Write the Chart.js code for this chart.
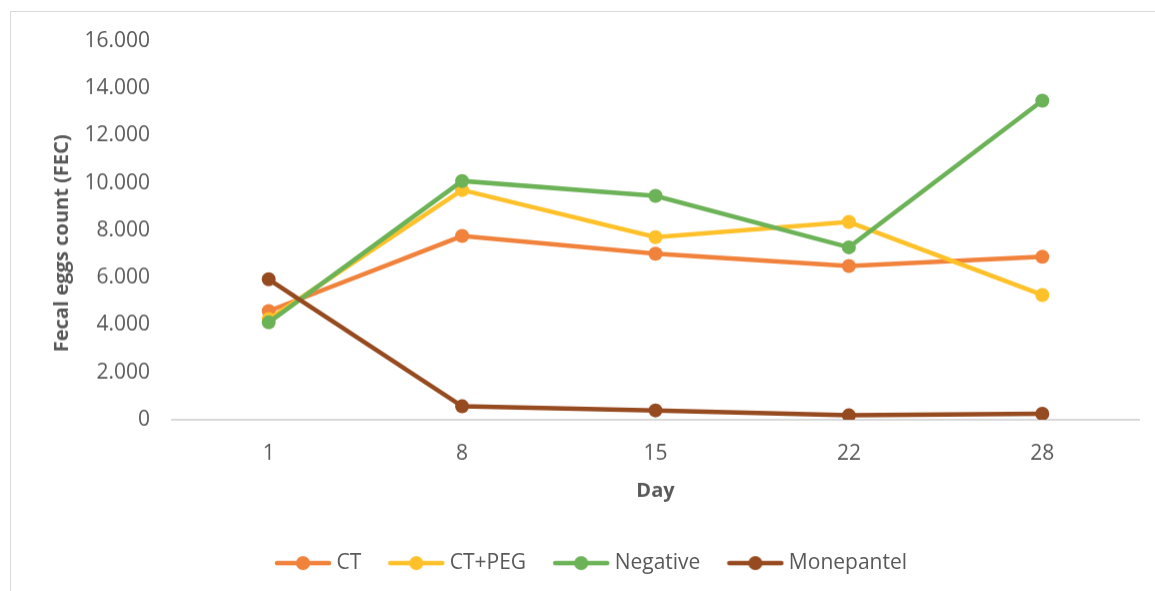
<!DOCTYPE html>
<html>
<head>
<meta charset="utf-8">
<script src="https://cdn.jsdelivr.net/npm/chart.js@4.4.1/dist/chart.umd.min.js"></script>
<style>
  html, body { margin: 0; padding: 0; background: #fff; overflow: hidden; }
  #frame {
    position: absolute; left: 10px; top: 11px;
    width: 1160px; height: 600px;
    border: 1px solid #d9d9d9;
  }
  #wrap { position: absolute; left: 0; top: -5.6px; width: 1144px; height: 576.6px; }
</style>
</head>
<body>
<div id="frame">
  <div id="wrap"><canvas id="chartCanvas"></canvas></div>
</div>
<script>
// Days of sampling
const days = ['1', '8', '15', '22', '28'];

// Fecal egg counts per group
const ctValues = [4590, 7760, 7010, 6490, 6880];
const ctPegValues = [4250, 9700, 7710, 8350, 5270];
const negativeValues = [4110, 10080, 9450, 7280, 13470];
const monepantelValues = [5930, 570, 400, 190, 260];

const seriesNames = ['CT', 'CT+PEG', 'Negative', 'Monepantel'];
const seriesColors = ['#F0823C', '#FFC12A', '#6CB257', '#964A1F'];

const yTicks = [0, 2000, 4000, 6000, 8000, 10000, 12000, 14000, 16000];

const textColor = '#595959';
const fontFamily = "'Open Sans', sans-serif";

// legend marker: a short line with a dot in the middle
function legendMarker(color) {
  const c = document.createElement('canvas');
  c.width = 58;
  c.height = 16;
  const g = c.getContext('2d');
  g.strokeStyle = color;
  g.lineWidth = 4.5;
  g.lineCap = 'round';
  g.beginPath();
  g.moveTo(3, 8);
  g.lineTo(55, 8);
  g.stroke();
  g.fillStyle = color;
  g.beginPath();
  g.arc(29, 8, 7, 0, Math.PI * 2);
  g.fill();
  return c;
}

function formatThousands(v) {
  return String(v).replace(/\B(?=(\d{3})+(?!\d))/g, '.');
}

const allValues = [ctValues, ctPegValues, negativeValues, monepantelValues];

const datasets = allValues.map((vals, i) => ({
  label: seriesNames[i],
  data: vals,
  borderColor: seriesColors[i],
  backgroundColor: seriesColors[i],
  pointBackgroundColor: seriesColors[i],
  pointBorderColor: seriesColors[i],
  borderWidth: 4.5,
  pointRadius: 7,
  pointHoverRadius: 7,
  pointBorderWidth: 0,
  tension: 0,
  fill: false,
  order: allValues.length - i
}));

const ctx = document.getElementById('chartCanvas').getContext('2d');
const chart = new Chart(ctx, {
  type: 'line',
  data: { labels: days, datasets: datasets },
  options: {
    responsive: true,
    maintainAspectRatio: false,
    animation: false,
    events: [],
    layout: { padding: { left: 37, right: 16, top: 25, bottom: 0 } },
    scales: {
      x: {
        offset: true,
        grid: { display: false, drawTicks: false },
        border: { display: true, color: '#d9d9d9', width: 2 },
        ticks: { color: textColor, padding: 21.5, font: { family: fontFamily, size: 21 } },
        title: {
          display: true,
          text: 'Day',
          color: textColor,
          padding: { top: -8.7, bottom: 17 },
          font: { family: fontFamily, size: 20, weight: 'bold' }
        }
      },
      y: {
        min: 0,
        max: 16000,
        afterFit: scale => { scale.width = 124; },
        afterBuildTicks: scale => { scale.ticks = yTicks.map(v => ({ value: v })); },
        grid: { display: false, drawTicks: false },
        border: { display: false },
        ticks: {
          color: textColor,
          padding: 22,
          font: { family: fontFamily, size: 21 },
          callback: v => formatThousands(v)
        },
        title: {
          display: true,
          // trailing spaces nudge the rotated title down a little
          text: 'Fecal eggs count (FEC)\u00a0\u00a0\u00a0\u00a0\u00a0',
          color: textColor,
          padding: { top: 2, bottom: 0 },
          font: { family: fontFamily, size: 20, weight: 'bold' }
        }
      }
    },
    plugins: {
      tooltip: { enabled: false },
      legend: {
        position: 'bottom',
        labels: {
          color: textColor,
          padding: 32,
          usePointStyle: true,
          pointStyleWidth: 46,
          font: { family: fontFamily, size: 21 },
          generateLabels: ch => ch.data.datasets.map((ds, i) => ({
            text: ds.label,
            fillStyle: ds.borderColor,
            strokeStyle: ds.borderColor,
            lineWidth: 0,
            pointStyle: legendMarker(ds.borderColor),
            fontColor: textColor,
            hidden: false,
            datasetIndex: i
          }))
        }
      }
    }
  }
});
</script>
</body>
</html>
